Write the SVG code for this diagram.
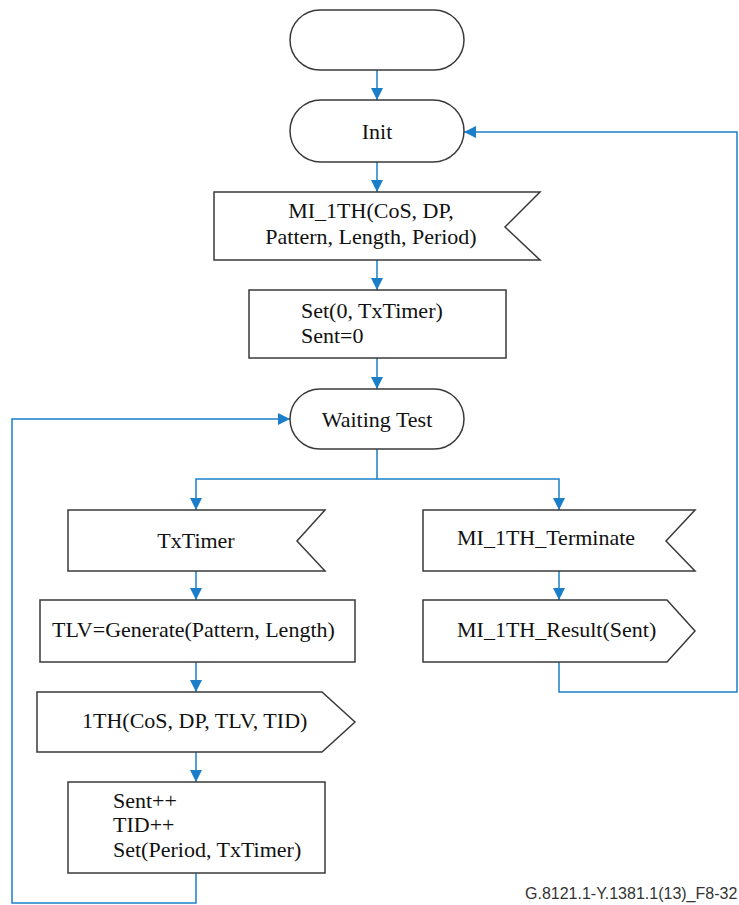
<svg xmlns="http://www.w3.org/2000/svg" width="739" height="905" viewBox="0 0 739 905">
<style>
.s{fill:#fff;stroke:#3a3a3a;stroke-width:1.5}
.t{font-family:'Liberation Serif','Times New Roman',Times,serif;font-size:22px;fill:#111}
.c{fill:none;stroke:#1a7fc8;stroke-width:1.5}
.f{font-family:'Liberation Sans',Arial,sans-serif;font-size:16px;fill:#333}
</style>
<defs>
<marker id="a" markerUnits="userSpaceOnUse" markerWidth="12" markerHeight="12" refX="12" refY="6" orient="auto">
<path d="M0,0 L12,6 L0,12 z" fill="#1a7fc8"/>
</marker>
</defs>
<rect width="739" height="905" fill="#fff"/>
<g id="connectors">
<path class="c" d="M377,70 V100" marker-end="url(#a)"/>
<path class="c" d="M377,162 V192" marker-end="url(#a)"/>
<path class="c" d="M377,260 V290" marker-end="url(#a)"/>
<path class="c" d="M377,358 V389" marker-end="url(#a)"/>
<path class="c" d="M377,449 V479 H196 V510" marker-end="url(#a)"/>
<path class="c" d="M377,479 H559 V510" marker-end="url(#a)"/>
<path class="c" d="M196,571 V600" marker-end="url(#a)"/>
<path class="c" d="M196,662 V692" marker-end="url(#a)"/>
<path class="c" d="M196,752 V782" marker-end="url(#a)"/>
<path class="c" d="M559,571 V600" marker-end="url(#a)"/>
<path class="c" d="M559,662 V692 H737 V132 H464" marker-end="url(#a)"/>
<path class="c" d="M196,873 V903 H12 V419 H290" marker-end="url(#a)"/>
</g>
<g id="start">
<rect class="s" x="290" y="10" width="174" height="60" rx="30"/>
</g>
<g id="init">
<rect class="s" x="290" y="100" width="174" height="62" rx="31"/>
<text class="t" x="377" y="139" text-anchor="middle">Init</text>
</g>
<g id="mi1th">
<polygon class="s" points="214,192 540,192 505,227 540,260 214,260"/>
<text class="t" x="371" y="218" text-anchor="middle">MI_1TH(CoS, DP,</text>
<text class="t" x="371" y="244" text-anchor="middle">Pattern, Length, Period)</text>
</g>
<g id="set0">
<rect class="s" x="249" y="290" width="257" height="68"/>
<text class="t" x="301" y="318">Set(0, TxTimer)</text>
<text class="t" x="301" y="343">Sent=0</text>
</g>
<g id="waiting">
<rect class="s" x="290" y="389" width="174" height="60" rx="30"/>
<text class="t" x="377" y="427" text-anchor="middle">Waiting Test</text>
</g>
<g id="txtimer">
<polygon class="s" points="68,510 325,510 297,541 325,571 68,571"/>
<text class="t" x="196" y="548" text-anchor="middle">TxTimer</text>
</g>
<g id="tlv">
<rect class="s" x="40" y="600" width="315" height="62"/>
<text class="t" x="52" y="637">TLV=Generate(Pattern, Length)</text>
</g>
<g id="send1th">
<polygon class="s" points="37,692 322,692 355,722 322,752 37,752"/>
<text class="t" x="82" y="728">1TH(CoS, DP, TLV, TID)</text>
</g>
<g id="sent">
<rect class="s" x="68" y="782" width="257" height="91"/>
<text class="t" x="113" y="808">Sent++</text>
<text class="t" x="113" y="832">TID++</text>
<text class="t" x="113" y="857">Set(Period, TxTimer)</text>
</g>
<g id="terminate">
<polygon class="s" points="423,510 695,510 666,541 695,571 423,571"/>
<text class="t" x="457" y="545">MI_1TH_Terminate</text>
</g>
<g id="result">
<polygon class="s" points="423,600 667,600 695,631 667,662 423,662"/>
<text class="t" x="457" y="637">MI_1TH_Result(Sent)</text>
</g>
<text class="f" x="525" y="899">G.8121.1-Y.1381.1(13)_F8-32</text>
</svg>
